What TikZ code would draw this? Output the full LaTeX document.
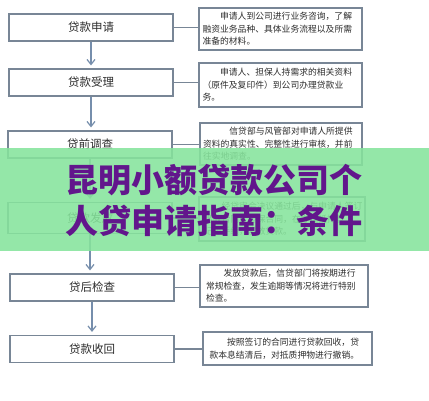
\documentclass[tikz,border=0pt]{standalone}
\usepackage{fontspec}
\newfontfamily\cjk{Noto Sans CJK SC}
\usetikzlibrary{arrows.meta}
\definecolor{boxline}{RGB}{120,134,150}
\definecolor{arrowc}{RGB}{118,142,172}
\definecolor{txt}{RGB}{45,45,45}
\definecolor{band}{RGB}{134,228,156}
\definecolor{titlec}{RGB}{98,22,140}
\begin{document}
\begin{tikzpicture}[x=1pt,y=-1pt,
  lbox/.style={draw=boxline,line width=1.2pt,fill=white,minimum width=164pt,minimum height=27pt,inner sep=0pt,
    font=\cjk\fontsize{11.5}{13}\selectfont,text=txt},
  rbox/.style={draw=boxline,line width=1.3pt,fill=white,inner sep=0pt},
  rtext/.style={font=\cjk\fontsize{8.8}{12.5}\selectfont,text=txt,align=left,text width=156pt,inner sep=0pt},
  flow/.style={draw=arrowc,line width=1.2pt,-{Straight Barb[length=5pt,width=8pt]},shorten >=3pt},
  link/.style={draw=boxline,line width=1.2pt}]
\useasboundingbox (0,0) rectangle (429,400);
\fill[white] (0,0) rectangle (429,400);
% left column
\node[lbox] (b1) at (91,27.5) {贷款申请};
\node[lbox] (b2) at (91,82.5) {贷款受理};
\node[lbox] (b3) at (90,144.5) {贷前调查};
\node[lbox,minimum height=31pt] (b4) at (90,218) {贷款发放};
\node[lbox] (b5) at (92,287.5) {贷后检查};
\node[lbox] (b6) at (92,349) {贷款收回};
% right column
\node[rbox,minimum width=163pt,minimum height=42pt] (r1) at (280.5,29) {};
\node[rtext] (t1) at (r1.center) {\hspace*{2em}申请人到公司进行业务咨询，了解\\融资业务品种、具体业务流程以及所需\\准备的材料。};
\node[rbox,minimum width=163pt,minimum height=44pt] (r2) at (280.5,85) {};
\node[rtext] (t2) at (r2.center) {\hspace*{2em}申请人、担保人持需求的相关资料\\（原件及复印件）到公司办理贷款业\\务。};
\node[rbox,minimum width=162pt,minimum height=42pt] (r3) at (281,144) {};
\node[rtext] (t3) at (r3.center) {\hspace*{3em}信贷部与风管部对申请人所提供\\资料的真实性、完整性进行审核，并前\\往实地调查。};
\node[rbox,minimum width=166pt,minimum height=44pt] (r4) at (282,219) {};
\node[rtext] (t4) at (r4.center) {\hspace*{2em}经贷审会决议通过后，与申请人签订\\借款合同、担保合同，在办理抵押登\\记等手续，发放贷款。};
\node[rbox,minimum width=168pt,minimum height=42pt] (r5) at (284,286) {};
\node[rtext] (t5) at (r5.center) {\hspace*{2em}发放贷款后，信贷部门将按期进行\\常规检查，发生逾期等情况将进行特别\\检查。};
\node[rbox,minimum width=169pt,minimum height=33pt] (r6) at (287.5,348.5) {};
\node[rtext] (t6) at (r6.center) {\hspace*{2em}按照签订的合同进行贷款回收，贷\\款本息结清后，对抵质押物进行撤销。};
% arrows
\draw[flow] (b1.south) -- (b1.south |- b2.north);
\draw[flow] (b2.south) -- (b2.south |- b3.north);
\draw[flow] (b3.south) -- (b3.south |- b4.north);
\draw[flow] (b4.south) -- (b4.south |- b5.north);
\draw[flow] (b5.south) -- (b5.south |- b6.north);
% links
\draw[link] (b1.east) -- (b1.east -| r1.west);
\draw[link] (b2.east) -- (b2.east -| r2.west);
\draw[link] (b3.east) -- (b3.east -| r3.west);
\draw[link] (b4.east) -- (b4.east -| r4.west);
\draw[link] (b5.east) -- (b5.east -| r5.west);
\draw[link] (b6.east) -- (b6.east -| r6.west);
% overlay band and title
\fill[band,opacity=0.88] (0,148) rectangle (429,251);
\node[font=\cjk\bfseries\fontsize{33}{41}\selectfont,text=titlec,align=center,inner sep=0pt] (title) at (214,200) {昆明小额贷款公司个\\人贷申请指南：条件};
\end{tikzpicture}
\end{document}
